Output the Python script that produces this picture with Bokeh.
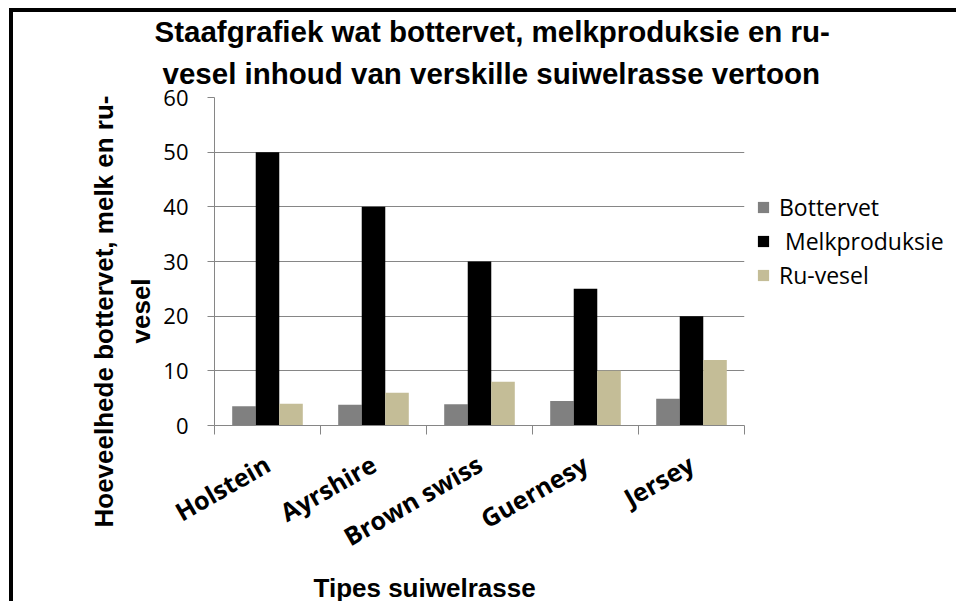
import math
from bokeh.plotting import figure
from bokeh.models import (ColumnDataSource, FactorRange, Range1d, LinearAxis, CategoricalAxis,
                          FixedTicker, Legend, LegendItem, Title)
from bokeh.transform import dodge
from bokeh.embed import file_html
from bokeh.resources import INLINE

# ---------------- data ----------------
breeds = ["Holstein", "Ayrshire", "Brown swiss", "Guernesy", "Jersey"]
bottervet = [3.5, 3.8, 3.9, 4.5, 4.9]
melkproduksie = [50, 40, 30, 25, 20]
ru_vesel = [4, 6, 8, 10, 12]
series_labels = ["Bottervet", " Melkproduksie", "Ru-vesel"]
y_ticks = [0, 10, 20, 30, 40, 50, 60]
title_lines = ["Staafgrafiek wat bottervet, melkproduksie en ru-",
               "vesel inhoud van verskille suiwelrasse vertoon"]
y_title_lines = ["Hoeveelhede bottervet, melk en ru-", "vesel"]
x_title = "Tipes suiwelrasse"

# ---------------- style ----------------
colors = ["#808080", "#000000", "#C4BD97"]
grid_gray = "#868686"
sans = "Open Sans"
title_font = "Liberation Sans"

source = ColumnDataSource(dict(breed=breeds, bottervet=bottervet,
                               melk=melkproduksie, ru=ru_vesel))

p = figure(x_range=FactorRange(*breeds), y_range=Range1d(0, 60),
           frame_width=530, frame_height=328,
           min_border_left=201, min_border_right=212,
           min_border_top=81, min_border_bottom=180,
           title=None, x_axis_location=None,
           output_backend="svg", toolbar_location=None)
p.styles = {"margin-left": "9px", "margin-top": "8px",
            "border-top": "4px solid black", "border-left": "4px solid black"}
p.outline_line_color = None
p.background_fill_color = "white"
p.border_fill_color = "white"

bw = 0.222
fields = ["bottervet", "melk", "ru"]
offsets = [-bw, 0.0, bw]
renderers = []
for f, off, c in zip(fields, offsets, colors):
    r = p.vbar(x=dodge("breed", off, range=p.x_range), top=f, width=bw,
               source=source, fill_color=c, line_color=None)
    renderers.append(r)

# y axis
yax = p.yaxis[0]
yax.ticker = FixedTicker(ticks=y_ticks)
yax.axis_line_color = grid_gray
yax.major_tick_line_color = grid_gray
yax.major_tick_out = 7
yax.major_tick_in = 0
yax.minor_tick_line_color = None
yax.major_label_text_font = sans
yax.major_label_text_font_size = "22px"
yax.major_label_text_color = "black"
yax.major_label_standoff = 19
p.ygrid.grid_line_color = grid_gray
p.xgrid.visible = False

# boundary tick axis (ticks between categories, on the factor range's synthetic scale)
bounds = list(range(len(breeds) + 1))
bax = LinearAxis(ticker=FixedTicker(ticks=bounds))
bax.major_label_overrides = {i: "" for i in bounds}
bax.major_label_text_font_size = "0px"
bax.major_label_standoff = 0
bax.axis_line_color = grid_gray
bax.major_tick_line_color = grid_gray
bax.major_tick_out = 9
bax.major_tick_in = 0
bax.minor_tick_line_color = None
p.add_layout(bax, "below")

# category label axis
cax = CategoricalAxis()
cax.axis_line_color = None
cax.major_tick_line_color = None
cax.major_tick_out = 0
cax.major_tick_in = 0
cax.major_label_orientation = 0.52
cax.major_label_standoff = 27
cax.major_label_text_font = sans
cax.major_label_text_font_style = "bold"
cax.major_label_text_font_size = "25px"
cax.major_label_text_color = "black"
p.add_layout(cax, "below")

# x title
p.add_layout(Title(text=x_title, align="left", offset=99, standoff=0,
                   text_font=title_font, text_font_style="bold",
                   text_font_size="26px", text_color="black"), "below")

# legend (right side panel)
legend = Legend(items=[LegendItem(label=lab, renderers=[r])
                       for lab, r in zip(series_labels, renderers)],
                location=(12, 134), orientation="vertical",
                glyph_width=14, glyph_height=14, label_standoff=9,
                spacing=2, padding=0, margin=0,
                border_line_color=None, background_fill_alpha=0,
                label_text_font=sans, label_text_font_size="23px",
                label_text_color="black")
p.add_layout(legend, "right")

# chart title: two lines, nearest-to-frame line added first
p.add_layout(Title(text=title_lines[1], align="left", offset=-52, standoff=15,
                   text_font=title_font, text_font_style="bold",
                   text_font_size="29.5px", text_color="black"), "above")
p.add_layout(Title(text=title_lines[0], align="left", offset=-60, standoff=0,
                   text_font=title_font, text_font_style="bold",
                   text_font_size="29.5px", text_color="black"), "above")

# y title: two lines, nearest-to-axis line added first
p.add_layout(Title(text=y_title_lines[1], align="left", offset=82, standoff=10,
                   text_font=title_font, text_font_style="bold",
                   text_font_size="26px", text_color="black"), "left")
p.add_layout(Title(text=y_title_lines[0], align="left", offset=-102, standoff=0,
                   text_font=title_font, text_font_style="bold",
                   text_font_size="26px", text_color="black"), "left")

open("out.html", "w").write(file_html(p, INLINE))
